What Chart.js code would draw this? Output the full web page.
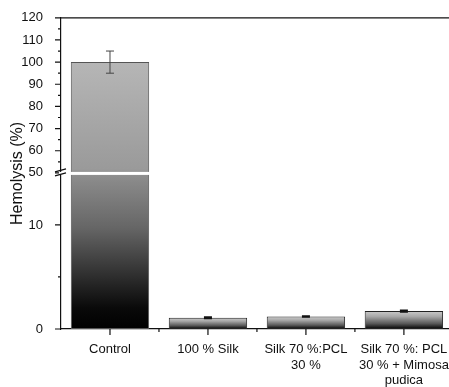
<!DOCTYPE html>
<html>
<head>
<meta charset="utf-8">
<script src="https://cdn.jsdelivr.net/npm/chart.js@4"></script>
<style>
  html, body { margin: 0; padding: 0; background: #fff; overflow: hidden; }
  #wrap { width: 454px; height: 387px; }
</style>
</head>
<body>
<div id="wrap"><canvas id="chart" width="454" height="387"></canvas></div>
<script>
// Data
const categories = [['Control'], ['100 % Silk'], ['Silk 70 %:PCL', '30 %'], ['Silk 70 %: PCL', '30 % + Mimosa', 'pudica']];
const hemolysis = [100, 1.08, 1.2, 1.72];
const errors = [5, 0.08, 0.05, 0.08];
const lowTicks = [0, 10];
const highTicks = [50, 60, 70, 80, 90, 100, 110, 120];

// broken axis ranges
const lowMin = 0, lowMax = 15;
const highMin = 50, highMax = 120;

const font = "'Liberation Sans', Arial, sans-serif";

// gradient for each bar, from its base to its top
function barFill(ctx) {
    const chart = ctx.chart;
    if (!chart.chartArea) return '#888';
    const low = chart.scales.yLow, high = chart.scales.yHigh;
    const v = hemolysis[ctx.dataIndex];
    const base = low.getPixelForValue(0);
    const top = v > lowMax ? high.getPixelForValue(v) : low.getPixelForValue(v);
    const g = chart.ctx.createLinearGradient(0, base, 0, top);
    if (v > lowMax) {
        g.addColorStop(0, '#000000');
        g.addColorStop(0.08, '#0a0a0a');
        g.addColorStop(0.38, '#666666');
        g.addColorStop(0.57, '#8c8c8c');
        g.addColorStop(0.6, '#9a9a9a');
        g.addColorStop(1, '#b6b6b6');
    } else {
        g.addColorStop(0, '#000000');
        g.addColorStop(0.3, '#585858');
        g.addColorStop(0.7, '#a8a8a8');
        g.addColorStop(1, '#cacaca');
    }
    return g;
}

// axis ticks, frame, break marks, error bars and y title
const decorations = {
    id: 'decorations',
    afterDatasetsDraw(chart) {
        const c = chart.ctx;
        const area = chart.chartArea;
        const low = chart.scales.yLow, high = chart.scales.yHigh, x = chart.scales.x;
        c.save();

        // error bars
        const meta = chart.getDatasetMeta(0);
        hemolysis.forEach((v, i) => {
            const px = meta.data[i].x;
            const sc = v > lowMax ? high : low;
            const y1 = sc.getPixelForValue(v + errors[i]);
            const y2 = sc.getPixelForValue(v - errors[i]);
            c.strokeStyle = i === 0 ? '#444' : '#111';
            c.lineWidth = i === 0 ? 1 : 1.5;
            c.beginPath();
            c.moveTo(px, y1); c.lineTo(px, y2);
            c.moveTo(px - 4, y1); c.lineTo(px + 4, y1);
            c.moveTo(px - 4, y2); c.lineTo(px + 4, y2);
            c.stroke();
        });

        // white gap of the break
        const yBreak = high.bottom;
        c.fillStyle = '#fff';
        c.fillRect(area.left + 1, yBreak - 1, area.right - area.left, 3);

        c.strokeStyle = '#111';
        c.lineWidth = 1.2;
        // top frame line
        c.beginPath();
        c.moveTo(area.left, area.top); c.lineTo(area.right, area.top);
        c.stroke();

        // y ticks
        c.beginPath();
        for (let v = highMin; v <= highMax; v += 5) {
            const y = high.getPixelForValue(v);
            const len = v % 10 === 0 ? 6 : 3;
            c.moveTo(area.left - len, y); c.lineTo(area.left, y);
        }
        for (let v = lowMin; v < lowMax; v += 5) {
            const y = low.getPixelForValue(v);
            const len = v % 10 === 0 ? 6 : 3;
            c.moveTo(area.left - len, y); c.lineTo(area.left, y);
        }
        // x ticks: long at centres, short at boundaries
        categories.forEach((_, i) => {
            const px = x.getPixelForTick(i);
            c.moveTo(px, area.bottom); c.lineTo(px, area.bottom + 6);
            const bx = px + (x.getPixelForTick(1) - x.getPixelForTick(0)) / 2;
            c.moveTo(bx, area.bottom); c.lineTo(bx, area.bottom + 3);
        });
        c.stroke();

        // break marks on the y axis
        c.fillStyle = '#fff';
        c.fillRect(area.left - 2, yBreak - 1, 4, 3);
        c.beginPath();
        c.moveTo(area.left - 6, yBreak - 1); c.lineTo(area.left + 5, yBreak - 4);
        c.moveTo(area.left - 6, yBreak + 3); c.lineTo(area.left + 5, yBreak);
        c.stroke();

        // y title
        c.fillStyle = '#111';
        c.font = '16px ' + font;
        c.textAlign = 'center';
        c.textBaseline = 'middle';
        c.translate(18, (area.top + area.bottom) / 2);
        c.rotate(-Math.PI / 2);
        c.fillText('Hemolysis (%)', 0, 0);
        c.restore();
    }
};

const ctx = document.getElementById('chart').getContext('2d');

new Chart(ctx, {
    type: 'bar',
    data: {
        labels: categories,
        datasets: [
            {
                label: 'low',
                data: hemolysis.map(v => Math.min(v, lowMax)),
                yAxisID: 'yLow',
                backgroundColor: barFill,
                borderColor: (c) => hemolysis[c.dataIndex] > lowMax ? '#555' : '#222',
                borderWidth: 1,
                borderSkipped: false,
                grouped: false,
                barPercentage: 0.8,
                categoryPercentage: 1,
            },
            {
                label: 'high',
                data: hemolysis.map(v => v > highMin ? [highMin, v] : null),
                yAxisID: 'yHigh',
                backgroundColor: barFill,
                borderColor: '#555',
                borderWidth: 1,
                borderSkipped: false,
                grouped: false,
                barPercentage: 0.8,
                categoryPercentage: 1,
            },
        ],
    },
    options: {
        responsive: false,
        animation: false,
        layout: { padding: { top: 16, right: 1, left: 16, bottom: 0 } },
        plugins: {
            legend: { display: false },
            tooltip: { enabled: false },
        },
        scales: {
            x: {
                offset: true,
                grid: { display: false },
                border: { display: true, color: '#111', width: 1.2 },
                ticks: {
                    color: '#111',
                    font: { family: font, size: 13, lineHeight: 1.18 },
                    maxRotation: 0,
                    autoSkip: false,
                    padding: 5,
                },
                afterFit: (scale) => { scale.height = 58; },
            },
            yLow: {
                type: 'linear',
                position: 'left',
                stack: 'y',
                stackWeight: 157,
                min: lowMin,
                max: lowMax,
                afterBuildTicks: (scale) => { scale.ticks = lowTicks.map(v => ({ value: v })); },
                grid: { display: false },
                border: { display: true, color: '#111', width: 1.2 },
                ticks: { color: '#111', font: { family: font, size: 13 }, padding: 10, autoSkip: false },
                afterFit: (scale) => { scale.width = 45; },
            },
            yHigh: {
                type: 'linear',
                position: 'left',
                stack: 'y',
                stackWeight: 156,
                min: highMin,
                max: highMax,
                afterBuildTicks: (scale) => { scale.ticks = highTicks.map(v => ({ value: v })); },
                grid: { display: false },
                border: { display: true, color: '#111', width: 1.2 },
                ticks: { color: '#111', font: { family: font, size: 13 }, padding: 10, autoSkip: false },
                afterFit: (scale) => { scale.width = 45; },
            },
        },
    },
    plugins: [decorations],
});
</script>
</body>
</html>
